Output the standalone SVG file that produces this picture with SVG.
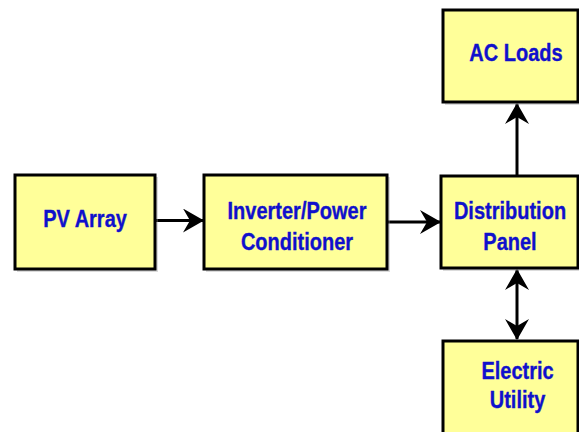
<svg xmlns="http://www.w3.org/2000/svg" width="579" height="432" viewBox="0 0 579 432">
<style>
.box{fill:#FFFF99;stroke:#000;stroke-width:3}
.sh{fill:#999;opacity:0.35}
.t{font-family:"Liberation Sans",Arial,sans-serif;font-weight:bold;font-size:20px;fill:#1010CC;stroke:#1010CC;stroke-width:0.3;text-anchor:middle}
.c{stroke:#000;stroke-width:3;fill:none}
</style>
<defs>
<marker id="ah" viewBox="0 0 21 24" refX="20" refY="12" markerWidth="21" markerHeight="24" markerUnits="userSpaceOnUse" orient="auto-start-reverse">
<path d="M0,0 L21,12 L0,24 L7,12 Z" fill="#000"/>
</marker>
</defs>
<rect width="579" height="432" fill="#fff"/>
<g id="connectors">
<line class="c" x1="155" y1="220.5" x2="203" y2="220.5" marker-end="url(#ah)"/>
<line class="c" x1="387" y1="222" x2="440" y2="222" marker-end="url(#ah)"/>
<line class="c" x1="517" y1="176" x2="517" y2="104" marker-end="url(#ah)"/>
<line class="c" x1="517" y1="270" x2="517" y2="339" marker-start="url(#ah)" marker-end="url(#ah)"/>
</g>
<g id="pv-array">
<rect class="sh" x="17" y="177" width="141" height="95"/>
<rect class="box" x="15" y="175" width="140" height="94"/>
<text class="t" transform="translate(85,226.5) scale(1,1.15)">PV Array</text>
</g>
<g id="inverter">
<rect class="sh" x="206" y="177" width="184" height="95"/>
<rect class="box" x="204" y="175" width="183" height="94"/>
<text class="t" transform="translate(297,219) scale(1,1.15)">Inverter/Power</text>
<text class="t" transform="translate(297,250) scale(1,1.15)">Conditioner</text>
</g>
<g id="distribution-panel">
<rect class="sh" x="443" y="178" width="140" height="93"/>
<rect class="box" x="441" y="176" width="137" height="92"/>
<text class="t" transform="translate(510,219) scale(1,1.15)">Distribution</text>
<text class="t" transform="translate(510,250) scale(1,1.15)">Panel</text>
</g>
<g id="ac-loads">
<rect class="sh" x="445" y="12" width="140" height="93"/>
<rect class="box" x="443" y="10" width="135" height="92"/>
<text class="t" transform="translate(516,61) scale(1,1.15)">AC Loads</text>
</g>
<g id="electric-utility">
<rect class="sh" x="445" y="343" width="140" height="100"/>
<rect class="box" x="443" y="341" width="135" height="100"/>
<text class="t" transform="translate(517.5,378.5) scale(1,1.15)">Electric</text>
<text class="t" transform="translate(517.5,408) scale(1,1.15)">Utility</text>
</g>
</svg>
